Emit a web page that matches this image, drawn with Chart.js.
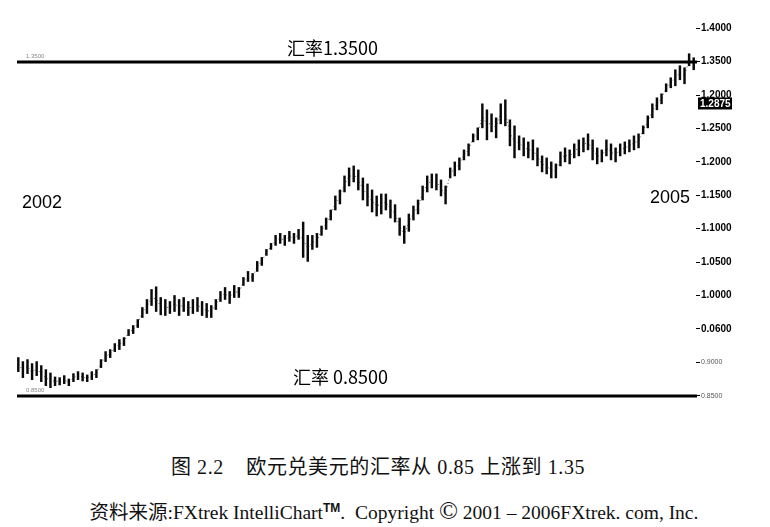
<!DOCTYPE html>
<html>
<head>
<meta charset="utf-8">
<script src="https://cdn.jsdelivr.net/npm/chart.js@4.4.0/dist/chart.umd.min.js"></script>
<style>
  body { margin: 0; background: #fff; width: 770px; height: 527px; overflow: hidden; position: relative; }
  #wrap { position: absolute; left: 0; top: 0; width: 770px; height: 430px; }
  .cap { position: absolute; left: 0; width: 770px; text-align: center; color: #111;
         font-family: "Liberation Serif", "Noto Sans CJK SC", serif; white-space: nowrap; }
  .cap sup { font-size: 12px; font-family: "Liberation Sans", sans-serif; font-weight: bold; }
  .cap .c { font-size: 25px; }
</style>
</head>
<body>
<div id="wrap"><canvas id="c" width="770" height="430"></canvas></div>
<div class="cap" style="top:451px;font-size:20px;left:-7px;letter-spacing:0.6px">图 2.2&nbsp;&nbsp;&nbsp;&nbsp;欧元兑美元的汇率从 0.85 上涨到 1.35</div>
<div class="cap" style="top:496px;font-size:19.5px;left:9px">资料来源:FXtrek IntelliChart<sup>TM</sup>. &nbsp;Copyright <span class="c">©</span> 2001 – 2006FXtrek. com, Inc.</div>
<script>
// weekly high / low of EUR/USD, early 2002 to end of 2004
const highs = [
  0.907, 0.901, 0.904, 0.898, 0.901, 0.895, 0.889, 0.884, 0.878, 0.877,
  0.880, 0.875, 0.883, 0.886, 0.884, 0.881, 0.886, 0.889, 0.904, 0.916,
  0.919, 0.928, 0.934, 0.937, 0.949, 0.955, 0.964, 0.982, 0.994, 1.009,
  1.013, 0.997, 0.994, 0.991, 1.000, 0.994, 0.997, 0.991, 0.994, 0.997,
  0.991, 0.988, 0.985, 0.994, 1.006, 1.012, 1.006, 1.015, 1.012, 1.027,
  1.036, 1.033, 1.051, 1.057, 1.069, 1.078, 1.090, 1.093, 1.090, 1.096,
  1.093, 1.099, 1.110, 1.090, 1.090, 1.093, 1.104, 1.116, 1.128, 1.149,
  1.158, 1.179, 1.191, 1.194, 1.188, 1.176, 1.167, 1.158, 1.149, 1.152,
  1.152, 1.143, 1.136, 1.116, 1.104, 1.122, 1.134, 1.143, 1.164, 1.179,
  1.182, 1.182, 1.173, 1.164, 1.191, 1.200, 1.206, 1.218, 1.227, 1.242,
  1.251, 1.287, 1.278, 1.272, 1.266, 1.287, 1.293, 1.263, 1.254, 1.239,
  1.236, 1.230, 1.233, 1.221, 1.209, 1.206, 1.200, 1.197, 1.215, 1.221,
  1.218, 1.227, 1.233, 1.236, 1.242, 1.233, 1.221, 1.218, 1.233, 1.227,
  1.221, 1.227, 1.230, 1.233, 1.239, 1.242, 1.254, 1.269, 1.287, 1.296,
  1.302, 1.317, 1.326, 1.338, 1.344, 1.341, 1.362, 1.356
];
const lows = [
  0.886, 0.877, 0.883, 0.874, 0.880, 0.871, 0.865, 0.862, 0.865, 0.866,
  0.868, 0.865, 0.871, 0.874, 0.872, 0.871, 0.874, 0.877, 0.892, 0.901,
  0.907, 0.916, 0.919, 0.925, 0.940, 0.943, 0.952, 0.967, 0.973, 0.985,
  0.976, 0.971, 0.970, 0.973, 0.976, 0.970, 0.976, 0.970, 0.973, 0.976,
  0.970, 0.967, 0.967, 0.979, 0.991, 0.994, 0.988, 0.997, 0.997, 1.015,
  1.021, 1.021, 1.036, 1.045, 1.060, 1.069, 1.075, 1.078, 1.075, 1.081,
  1.078, 1.084, 1.057, 1.051, 1.069, 1.072, 1.090, 1.099, 1.113, 1.128,
  1.137, 1.155, 1.164, 1.170, 1.158, 1.143, 1.134, 1.125, 1.119, 1.122,
  1.128, 1.116, 1.110, 1.090, 1.078, 1.096, 1.113, 1.122, 1.143, 1.155,
  1.161, 1.158, 1.149, 1.137, 1.176, 1.179, 1.188, 1.203, 1.209, 1.230,
  1.233, 1.251, 1.233, 1.245, 1.236, 1.257, 1.254, 1.224, 1.206, 1.218,
  1.209, 1.206, 1.203, 1.194, 1.185, 1.182, 1.176, 1.176, 1.194, 1.200,
  1.197, 1.206, 1.209, 1.215, 1.218, 1.203, 1.197, 1.200, 1.209, 1.203,
  1.200, 1.209, 1.212, 1.215, 1.218, 1.221, 1.242, 1.251, 1.266, 1.278,
  1.287, 1.305, 1.311, 1.314, 1.323, 1.317, 1.344, 1.338
];
const weeks = highs.map((_, i) => i + 1);

// right-hand axis, printed as in the scan
const tickValues = [1.40, 1.35, 1.30, 1.25, 1.20, 1.15, 1.10, 1.05, 1.00, 0.95, 0.90, 0.85];
const tickLabels = ['1.4000', '1.3500', '1.2000', '1.2500', '1.2000', '1.1500', '1.1000',
                    '1.0500', '1.0000', '0.0600', '0.9000', '0.8500'];

const refLines = [1.35, 0.85];
const refTexts = ['汇率1.3500', '汇率 0.8500'];
const lastPrice = 1.2875;
const yearLabels = ['2002', '2005'];

const overlay = {
  id: 'overlay',
  afterDatasetsDraw(chart) {
    const { ctx, chartArea: a, scales: { y } } = chart;
    ctx.save();
    // thick reference lines
    ctx.strokeStyle = '#000';
    ctx.lineWidth = 3.2;
    refLines.forEach(v => {
      const py = Math.round(y.getPixelForValue(v));
      ctx.beginPath();
      ctx.moveTo(a.left + 1, py);
      ctx.lineTo(a.right + 1, py);
      ctx.stroke();
    });
    // faint small labels at the left end of the lines
    ctx.fillStyle = '#888';
    ctx.font = '6px "Liberation Sans"';
    ctx.textBaseline = 'bottom';
    ctx.textAlign = 'left';
    refLines.forEach(v => ctx.fillText(v.toFixed(4), a.left + 10, y.getPixelForValue(v) - 2));

    // rate captions over the lines
    ctx.fillStyle = '#000';
    ctx.font = '18px "Noto Sans CJK SC", "Liberation Sans"';
    ctx.textBaseline = 'alphabetic';
    ctx.fillText(refTexts[0], 287, y.getPixelForValue(refLines[0]) - 7);
    ctx.fillText(refTexts[1], 293, y.getPixelForValue(refLines[1]) - 12);

    // year labels
    ctx.font = '18px "Liberation Sans"';
    ctx.textBaseline = 'middle';
    ctx.fillText(yearLabels[0], 22, 203);
    ctx.textAlign = 'right';
    ctx.fillText(yearLabels[1], 690, 198);

    // last price box
    const py = y.getPixelForValue(lastPrice);
    ctx.fillStyle = '#000';
    ctx.fillRect(a.right + 2, py - 6, 34, 12);
    ctx.fillStyle = '#fff';
    ctx.font = 'bold 10px "Liberation Sans"';
    ctx.textAlign = 'left';
    ctx.fillText(lastPrice.toFixed(4), a.right + 4, py + 0.5);
    ctx.restore();
  }
};

new Chart(document.getElementById('c'), {
  data: {
    labels: weeks,
    datasets: [
      {
        type: 'bar',
        data: highs.map((h, i) => [lows[i], h]),
        backgroundColor: '#0a0a0a',
        barThickness: 1.8,
        borderWidth: 0,
        order: 1
      },
      {
        type: 'line',
        data: highs.map((h, i) => (h + lows[i]) / 2),
        borderColor: '#555',
        borderWidth: 1,
        borderDash: [1, 2.5],
        pointRadius: 0,
        tension: 0,
        order: 2
      }
    ]
  },
  options: {
    responsive: false,
    animation: false,
    layout: { padding: { left: 16, top: 25, bottom: 31, right: 0 } },
    plugins: { legend: { display: false }, tooltip: { enabled: false } },
    scales: {
      x: { display: false, offset: true },
      y: {
        position: 'right',
        min: 0.845,
        max: 1.405,
        afterBuildTicks(scale) { scale.ticks = tickValues.map(v => ({ value: v })); },
        afterFit(scale) { scale.width = 74; },
        border: { display: false },
        grid: { drawOnChartArea: false, drawTicks: true, tickLength: 4, color: '#000', lineWidth: 1 },
        ticks: {
          padding: 1,
          color: ctx => ctx.index >= 10 ? '#555' : '#000',
          font: ctx => ctx.index >= 10
            ? { family: 'Liberation Sans', size: 7 }
            : { family: 'Liberation Sans', size: 10, weight: 'bold' },
          callback: (v, i) => tickLabels[i]
        }
      }
    }
  },
  plugins: [overlay]
});
</script>
</body>
</html>
